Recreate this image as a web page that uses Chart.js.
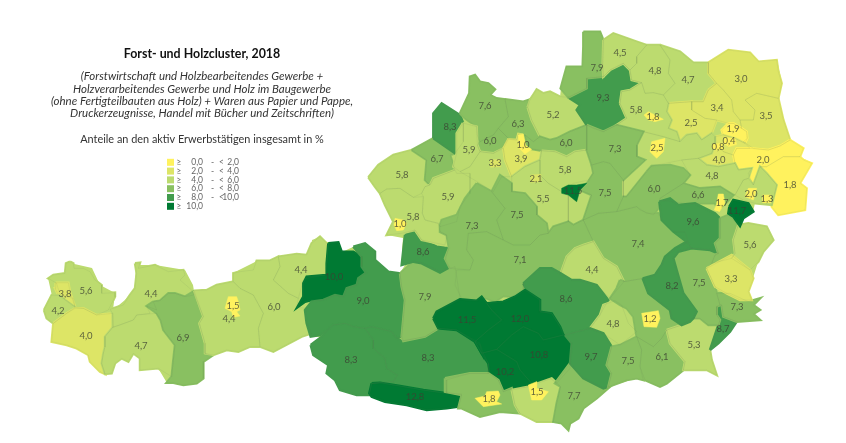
<!DOCTYPE html>
<html>
<head>
<meta charset="utf-8">
<title>Forst- und Holzcluster, 2018</title>
<script src="https://cdn.jsdelivr.net/npm/chart.js@4"></script>
<style>
  html, body { margin: 0; background: #fff; }
  canvas { display: block; }
</style>
</head>
<body>
<canvas id="map" width="846" height="443"></canvas>
<script>
// class colours and legend text
const classColors = ['#fff25e', '#dde566', '#bcdb6f', '#89c061', '#429c4d', '#007a33'];
const legendLabels = [
  ['0,0', '<', '2,0'], ['2,0', '<', '4,0'], ['4,0', '<', '6,0'],
  ['6,0', '<', '8,0'], ['8,0', '<', '10,0'], ['10,0', '', '']
];
const titleText = 'Forst- und Holzcluster, 2018';
const subtitleLines = [
  '(Forstwirtschaft und Holzbearbeitendes Gewerbe +',
  'Holzverarbeitendes Gewerbe und Holz im Baugewerbe',
  '(ohne Fertigteilbauten aus Holz) + Waren aus Papier und Pappe,',
  'Druckerzeugnisse, Handel mit Bücher und Zeitschriften)'
];
const unitText = 'Anteile an den aktiv Erwerbstätigen insgesamt in %';

// outlines were traced in crops of the picture, so each one is given with its crop origin
const crop = (ox, oy) => flat => {
  const pts = [];
  for (let i = 0; i < flat.length; i += 2) pts.push({ x: ox + flat[i] / 3, y: oy + flat[i + 1] / 3 });
  pts.push(pts[0]);
  return pts;
};
const west = crop(40, 230), nw = crop(290, 90), north = crop(460, 20), ne = crop(640, 40);
const mid = crop(440, 170), se = crop(620, 190), sw = crop(290, 230), south = crop(440, 280);

// whole country, goes under the districts so no seam shows white
const countryShape = crop(0, 0)([
  45,310,52,296,48,278,66,275,70,263,92,268,100,285,115,293,113,310,125,300,135,288,136,265,155,265,185,270,193,285,194,291,
  207,290,233,282,235,272,255,262,270,260,290,255,311,255,312,240,320,237,328,243,338,243,342,252,353,247,365,243,375,252,
  375,260,388,272,400,273,405,265,402,250,403,238,387,235,393,222,385,205,380,193,375,187,368,177,378,165,393,155,412,150,
  433,138,433,113,442,103,460,115,469,93,470,77,475,75,480,82,488,83,495,89,490,95,497,98,505,99,523,102,528,100,537,89,
  543,93,550,92,560,97,561,88,567,67,583,67,583,32,600,32,603,40,613,33,637,42,647,45,660,45,680,52,693,63,708,63,728,50,
  750,53,758,62,777,60,782,83,778,98,783,120,790,140,803,148,800,157,812,163,800,183,807,188,805,210,778,215,772,205,755,203,
  753,212,743,218,740,226,748,223,767,227,773,240,763,252,758,262,753,278,748,292,752,300,760,298,753,305,760,310,753,314,
  760,320,737,322,730,332,718,343,710,350,712,360,717,375,707,370,683,370,667,383,660,387,645,380,637,378,608,387,597,398,
  583,408,578,418,570,423,568,430,562,423,553,422,537,422,520,413,500,412,480,417,462,408,458,407,447,408,427,410,407,405,
  385,402,372,397,369,395,357,395,340,390,335,380,327,373,328,365,313,355,311,345,322,337,311,337,312,333,302,337,273,352,
  260,347,250,347,238,352,227,350,213,355,203,362,203,378,197,383,183,385,167,383,158,368,140,370,140,358,133,353,128,362,
  122,358,115,363,112,373,105,374,100,372,90,362,88,355,77,348,67,345,52,342,53,323,47,318
].map(n => n * 3));

// one entry per district, same order in all lists (null = no printed number)
const regionValues = [
  5.6, 3.8, 4.2, 4.0, 4.4, 4.7, 6.9, 4.4, 6.0, 4.4,
  10.0, 9.0, 8.3, 8.3, 12.8, 7.9, 8.6, 5.8, 6.7, 8.3,
  5.8, 5.9, 7.6, 6.3, 6.0, 5.9, null, 3.9, 5.2, 6.0,
  5.8, 5.5, null, 7.5, 7.3, 7.1, 7.5, 9.3, 7.9, 4.5,
  4.8, 4.7, 3.0, 3.5, 3.4, 2.5, 1.9, null, 4.0, 2.0,
  1.8, null, 4.8, 6.6, 5.8, null, 7.3, 6.0, 7.4, 4.4,
  8.6, 4.8, 12.0, 11.5, 10.8, 10.2, null, null, 7.7, 9.7,
  null, 7.5, 6.1, 5.3, 8.7, 7.3, 7.5, 8.2, 9.6, null,
  5.6, 3.3, 11.7,
  1.5, 1.0, 3.3, 1.0, 2.1, 11.5, 1.8, 2.5, 0.4, 0.8,
  2.0, 1.3, 1.7, 1.2, 1.8, 1.5
];
const regionClasses = [
  2, 1, 2, 1, 2, 2, 3, 2, 2, 2,
  5, 4, 4, 4, 5, 3, 4, 2, 3, 4,
  2, 2, 3, 3, 3, 2, 2, 1, 2, 3,
  2, 2, 2, 3, 3, 3, 3, 4, 3, 2,
  2, 2, 1, 1, 1, 1, 0, 1, 1, 0,
  0, 2, 2, 3, 2, 2, 3, 3, 3, 2,
  4, 2, 5, 5, 5, 5, 3, 2, 3, 4,
  3, 3, 3, 2, 4, 3, 3, 4, 4, 3,
  2, 1, 5,
  0, 0, 1, 0, 1, 5, 0, 0, 0, 0,
  0, 0, 0, 0, 0, 0
];
const labelPoints = [
  [86,291],[65,294],[58,311],[86,336],[151,294],[141,346],[183,338],[229,319],[274,307],[301,270],
  [334,277],[363,301],[351,360],[428,358],[415,397],[425,297],[423,252],[402,175],[437,159],[450,127],
  [413,217],[448,197],[485,106],[518,124],[490,141],[469,150],null,[521,159],[553,115],[566,143],
  [565,170],[543,199],null,[517,215],[472,226],[520,260],[605,193],[603,98],[597,68],[620,53],
  [655,71],[688,80],[741,79],[766,116],[717,108],[691,123],[733,129],null,[719,160],[763,160],
  [790,185],null,[712,176],[698,195],[636,110],null,[615,149],[654,189],[638,244],[592,270],
  [566,299],[613,324],[520,319],[467,320],[539,355],[505,372],null,null,[574,396],[591,357],
  null,[628,361],[662,357],[694,345],[723,329],[737,307],[699,283],[672,286],[693,222],null,
  [750,245],[731,279],[737,211],
  [233,306],[400,224],[495,163],[523,145],[536,179],[573,191],[653,117],[657,148],[729,141],[718,147],
  [751,194],[767,199],[722,203],[650,319],[489,399],[537,392]
];
const firstPocket = 83; // entries from here on are the small pockets inside districts
const regionShapes = [
  west([90,95,100,100,102,115,130,115,150,125,165,150,185,165,185,190,225,188,225,200,205,240,170,255,130,235,105,232,100,205,60,195,50,160,25,145,40,135,75,130,78,100]),
  west([47,158,85,158,90,185,105,230,85,215,70,205,55,195,45,175]),
  west([12,240,35,195,60,197,75,210,105,232,80,250,60,265,40,280,20,265]),
  west([40,280,80,250,105,235,130,235,170,255,218,250,220,290,195,320,195,350,190,370,185,400,195,432,180,425,150,395,145,375,110,355,80,345,35,335]),
  west([285,100,300,98,295,115,345,105,385,125,430,120,435,135,420,150,455,180,462,195,435,200,405,190,385,190,360,212,340,215,350,240,320,228,330,250,290,255,280,270,240,285,218,292,218,250,210,238,250,225,270,195,285,175,290,130]),
  west([218,292,280,270,290,255,350,250,362,270,370,300,405,345,400,390,395,440,355,415,300,420,300,385,280,370,265,395,245,385,225,400,215,430,195,432,185,400,190,370,195,350,195,320]),
  west([340,215,360,212,385,190,405,190,435,200,460,185,490,260,478,280,495,340,495,370,515,378,490,395,490,445,470,460,430,465,400,458,380,458,395,440,400,390,405,345,370,300,362,270,350,250,320,228]),
  west([462,182,500,180,530,165,580,155,600,175,640,195,670,250,655,295,660,350,630,350,595,365,560,360,520,375,495,370,495,340,478,280,490,260]),
  west([640,195,600,175,580,155,580,130,600,125,640,120,650,92,690,92,715,80,720,110,700,150,745,190,775,205,770,232,800,235,795,270,815,310,785,320,700,365,660,350,655,295,670,250]),
  west([715,80,770,72,800,75,815,40,840,20,860,40,865,40,860,100,855,135,800,145,790,150,775,205,745,190,700,150,720,110]),

  sw([115,40,145,37,155,65,190,65,215,80,215,110,228,128,205,145,200,165,170,175,160,200,135,195,100,210,65,210,45,215,22,232,40,200,40,160,50,140,108,135,110,100]),
  sw([190,50,225,40,255,65,255,90,295,125,330,130,335,170,345,210,335,320,320,325,305,305,245,290,225,295,190,290,165,280,130,285,90,315,62,320,50,280,45,240,65,215,100,210,135,195,160,200,170,175,200,165,205,145,228,128,215,110,215,80]),
  sw([62,345,95,320,130,285,165,280,190,290,225,295,250,330,250,355,285,385,290,415,322,435,310,455,245,460,238,495,200,495,150,480,135,450,110,430,115,405,70,375]),
  sw([225,295,245,290,305,305,320,325,335,333,405,320,445,295,500,300,570,340,580,370,595,400,595,430,540,430,468,450,470,490,400,480,330,468,270,458,245,460,310,455,322,435,290,415,285,385,250,355,250,330]),
  sw([245,460,270,458,330,468,400,480,470,490,515,492,505,530,470,535,410,540,350,525,285,515,245,500,238,490]),
  sw([330,130,370,95,395,100,450,125,495,110,510,205,435,245,428,270,445,295,405,320,340,333,335,320,345,210,335,170]),
  sw([345,15,375,0,395,30,440,50,475,55,465,95,478,112,450,128,395,100,370,95,335,105,340,60]),
  nw([235,262,265,225,310,195,365,180,410,210,405,270,420,285,405,290,395,310,370,322,330,295,290,297,270,310,255,290]),
  nw([365,180,430,145,495,190,480,195,495,240,430,265,420,285,405,270,410,210]),
  nw([430,145,430,70,455,40,510,75,520,100,520,155,495,190]),

  nw([270,310,290,297,330,295,370,322,400,320,397,370,405,390,445,400,450,425,470,435,465,465,395,450,375,420,335,430,290,435,310,395,285,345]),
  nw([420,285,430,265,495,240,500,250,540,250,540,310,510,350,500,395,450,410,445,400,405,390,397,370,400,320,395,310,405,290]),
  north([0,280,28,220,30,170,45,165,60,185,85,190,105,208,90,225,110,235,135,238,145,290,115,325,100,345,60,365,52,345,50,320,15,295]),
  north([135,238,190,245,205,240,203,262,215,300,240,350,220,365,195,345,175,342,170,360,145,355,115,325,145,290]),
  north([60,365,100,345,115,325,145,355,125,385,100,400,60,395,52,375]),
  north([9,309,50,320,52,375,60,395,30,440,0,455,-20,440,-10,400,-10,340]),
  north([60,395,100,400,130,385,135,420,155,470,125,470,100,515,60,490,0,455,30,440]),
  north([130,385,145,358,170,360,175,342,195,345,205,385,245,392,240,420,195,440,155,470,135,420]),
  north([203,262,210,240,230,208,250,220,270,215,300,230,325,232,360,255,350,270,380,315,330,335,290,355,270,360,240,350,215,300]),
  north([220,365,240,350,270,360,290,355,330,335,380,315,380,390,345,395,320,410,285,395,245,392,205,385,195,345]),

  north([245,392,285,395,320,410,345,395,380,390,395,435,400,460,385,480,340,490,305,515,265,490,240,465,240,420]),
  mid([215,20,255,-10,300,-30,300,15,325,40,365,65,385,75,385,155,340,170,325,190,320,160,290,135,290,110,255,70,215,65,215,40]),
  mid([385,75,410,95,420,60,455,75,430,150,400,165,385,155]),
  mid([155,65,180,15,215,40,215,65,255,70,290,110,290,135,320,160,325,190,300,195,270,225,220,225,190,210,170,150,195,115]),
  mid([110,40,155,65,195,115,170,150,190,210,140,185,85,190,80,240,100,270,90,300,30,295,15,265,27,235,20,195,0,186,0,165,5,150,50,135,75,85]),
  mid([85,190,140,185,190,210,220,225,270,225,300,195,325,190,340,170,385,155,400,165,430,150,460,215,430,225,405,235,380,260,362,310,335,295,300,295,250,340,250,358,215,380,190,378,165,395,125,380,105,390,65,385,45,345,50,300,90,300,100,270,80,240]),
  mid([445,35,460,10,455,-15,490,-25,510,-20,550,30,550,80,530,125,475,130,430,150,455,75,420,60]),
  north([325,232,380,205,380,175,430,170,450,150,490,130,510,150,515,180,545,188,510,210,485,215,480,250,500,295,470,315,430,335,400,325,380,315,350,270,360,255]),
  north([370,35,420,35,430,60,428,135,430,170,380,175,380,205,325,232,302,205,320,140,368,140,370,80]),
  north([430,60,460,40,530,65,560,75,530,110,530,130,510,150,490,130,450,150,430,170,428,135]),

  ne([20,15,60,15,90,60,85,100,105,130,70,165,40,158,15,160,5,128,-25,120,-30,90,-10,70,-10,50]),
  ne([60,15,120,35,160,68,205,68,205,100,230,130,205,150,190,185,155,185,85,190,70,165,105,130,85,100,90,60]),
  ne([205,68,265,30,330,38,355,65,410,60,415,95,425,130,415,175,350,160,315,180,345,210,340,240,300,240,280,215,275,180,250,150,230,130,205,100]),
  ne([350,160,415,175,430,240,450,300,420,318,385,330,340,325,310,305,322,295,320,275,305,265,300,240,340,240,345,210,315,180]),
  ne([205,150,230,130,250,150,275,180,280,215,300,240,305,265,280,250,265,250,230,240,195,235,155,210,155,185,190,185]),
  ne([85,190,155,185,155,210,195,235,230,240,215,280,185,300,170,280,140,285,120,305,110,275,85,265,95,240,80,215]),
  ne([265,250,280,250,305,265,320,275,322,295,315,310,285,295,250,285,245,270]),
  ne([225,290,250,285,285,295,315,310,330,325,290,325,280,345,250,335,225,310]),
  ne([175,355,215,340,225,310,250,335,280,345,285,370,260,375,235,380,200,375]),
  ne([280,345,290,325,330,325,385,330,420,318,450,300,490,325,480,350,430,350,380,380,360,380,340,435,325,400,335,385,295,390,285,370]),

  ne([380,380,430,350,480,350,490,360,515,370,480,430,500,445,495,510,415,525,395,500,410,435,380,400,360,380]),
  ne([285,465,310,420,325,415,340,435,360,380,380,400,410,435,395,495,345,490,310,480]),
  ne([130,430,150,405,125,360,175,355,200,375,235,380,260,375,285,370,295,390,335,385,325,415,310,420,285,465,280,465,240,440,180,445]),
  ne([130,430,180,445,240,440,280,465,262,485,235,510,225,490,135,490,60,480,60,475]),
  ne([-60,190,-55,155,-30,150,5,128,15,160,40,158,70,165,85,190,80,215,95,240,85,265,110,275,120,305,70,290,10,275,-70,255,-40,235]),
  ne([10,275,70,290,120,305,140,285,170,280,185,300,215,280,225,290,225,310,215,340,175,355,125,360,35,378,20,395,-40,470,-50,470,-50,420,15,360,-10,350,-10,315]),
  north([380,315,430,335,470,315,550,335,530,375,530,410,555,420,490,480,450,430,430,425,395,435,380,390]),
  ne([20,395,35,378,90,375,130,385,150,405,130,430,60,475,55,505,40,525,0,510,-10,500,-70,515,-50,470,-40,470]),
  se([-110,90,-65,70,-10,65,50,50,80,70,115,70,125,90,160,125,195,125,205,155,165,175,135,200,125,225,105,255,70,265,12,275,-10,230,-50,205,-80,155]),
  mid([362,310,380,260,405,235,430,225,460,215,490,265,530,290,552,335,510,385,470,345,420,330,395,330]),

  mid([250,340,300,295,335,295,362,310,395,330,420,330,470,345,505,390,480,435,450,475,375,495,360,470,335,430,300,425,300,390,260,360]),
  south([450,145,480,105,490,75,525,62,545,75,565,130,590,155,540,195,490,160]),
  south([140,70,190,65,225,50,255,30,300,60,300,95,335,100,360,140,370,165,310,180,295,160,250,140,215,165,170,208,125,220,105,185,145,150,185,120,155,90]),
  south([-20,115,-10,95,60,58,110,62,125,50,140,70,155,90,185,120,145,150,105,185,125,220,120,195,50,150,-5,145]),
  south([170,208,215,165,250,140,295,160,310,180,370,165,395,190,390,265,350,310,330,295,275,310,240,270,230,245]),
  south([125,220,170,208,230,245,240,270,275,310,265,320,215,325,190,335,175,300,150,280,145,250]),
  south([15,295,90,280,145,280,175,300,190,335,215,325,225,375,240,400,180,395,120,410,65,385,55,385,65,345,15,335]),
  south([215,330,265,320,335,295,362,320,350,370,340,425,290,425,240,400,225,375]),
  south([362,320,345,310,390,250,430,295,490,325,510,320,470,355,430,385,415,415,390,430,385,450,365,430,340,425,350,370]),
  south([375,165,450,145,490,160,515,200,500,255,515,280,505,320,490,325,430,295,390,250,395,190]),

  se([0,270,12,275,70,265,85,310,150,360,155,385,185,405,140,420,125,445,100,470,50,440,40,380,20,355,0,345,-30,325,-10,295]),
  se([-25,470,0,465,50,440,65,480,60,530,70,570,50,565,20,570,-35,590,-25,550,-40,525]),
  se([50,440,100,470,125,445,140,420,150,460,195,515,190,540,140,580,120,590,75,570,60,530,65,480]),
  se([140,420,185,405,220,385,240,385,265,405,295,405,270,480,275,510,290,555,260,540,190,540,195,515,150,460]),
  se([270,480,295,405,300,390,290,375,290,350,305,345,310,380,350,395,330,425,295,460]),
  se([290,310,330,310,385,335,420,325,400,345,420,360,400,372,420,390,350,395,310,380,305,345,300,345]),
  se([160,205,175,185,215,175,270,180,295,190,285,195,275,220,260,235,285,290,300,345,290,350,290,375,300,390,295,405,265,405,240,385,220,385,230,360,190,310,170,240]),
  se([68,265,105,255,125,225,135,200,165,175,200,155,215,175,175,185,160,205,170,240,190,310,230,365,220,385,210,395,185,405,155,385,150,360,85,310]),
  se([118,35,150,25,175,45,225,40,285,70,300,85,300,145,285,160,295,190,270,180,215,175,200,155,160,125,125,90]),
  se([300,85,325,75,355,105,340,150,345,190,335,205,275,220,285,195,295,190,285,160,300,145]),

  se([355,105,385,100,440,110,460,150,430,185,415,215,390,240,335,205,345,190,340,150]),
  se([260,235,335,195,390,240,400,265,385,305,395,330,360,330,320,310,285,290]),
  se([328,50,340,30,385,40,400,65,370,85,360,108,340,80,325,70]),

  // small pockets lying inside the districts above
  west([565,200,590,200,595,215,600,240,590,245,600,258,580,262,575,245,555,235]),
  nw([315,385,340,390,350,400,340,420,320,422,312,405]),
  north([90,420,120,418,122,440,92,442]),
  north([175,345,190,342,195,375,215,388,195,402,178,385]),
  mid([272,15,302,13,302,35,272,37]),
  mid([365,55,385,45,410,45,440,40,420,60,410,95,385,75,365,70]),
  ne([12,225,25,215,45,225,70,238,45,245,25,240]),
  ne([35,305,75,295,70,335,50,355,30,335]),
  ne([255,293,285,295,290,313,267,320,250,310]),
  ne([217,313,245,310,250,325,230,330,217,325]),
  ne([325,445,350,445,340,480,315,470]),
  ne([368,465,392,465,392,488,368,488]),
  se([295,12,310,12,315,40,298,65,283,60,290,40]),
  se([65,370,115,362,120,385,110,412,72,410]),
  south([105,355,135,348,140,335,175,333,180,345,170,365,185,372,130,380]),
  south([265,315,290,305,290,325,325,335,305,360,275,360])
];

const fmt = v => v.toFixed(1).replace('.', ',');

// numbers, headings and legend go on top of the filled districts
const textPlugin = {
  id: 'mapText',
  afterDatasetsDraw(chart) {
    const { ctx, scales: { x, y } } = chart;
    ctx.save();
    ctx.textBaseline = 'middle';
    ctx.textAlign = 'center';

    ctx.fillStyle = 'rgba(60,65,50,0.8)';
    ctx.font = '9.5px Lato';
    regionValues.forEach((v, i) => {
      if (v === null) return;
      ctx.fillText(fmt(v), x.getPixelForValue(labelPoints[i][0]), y.getPixelForValue(labelPoints[i][1]));
    });

    ctx.fillStyle = '#111';
    ctx.font = 'bold 12.4px Lato';
    ctx.fillText(titleText, x.getPixelForValue(202), y.getPixelForValue(54));

    ctx.fillStyle = '#333';
    ctx.font = 'italic 11.5px Lato';
    subtitleLines.forEach((line, i) => {
      ctx.fillText(line, x.getPixelForValue(202), y.getPixelForValue(76.5 + i * 12.3));
    });
    ctx.font = '10.9px Lato';
    ctx.fillText(unitText, x.getPixelForValue(202), y.getPixelForValue(139));

    // legend rows
    ctx.font = '8.5px Lato';
    legendLabels.forEach((row, i) => {
      const rowY = 162.3 + i * 8.8;
      ctx.fillStyle = classColors[i];
      ctx.fillRect(x.getPixelForValue(167), y.getPixelForValue(rowY - 3.5), 7, 7);
      ctx.fillStyle = '#666';
      ctx.textAlign = 'left';
      ctx.fillText('≥', x.getPixelForValue(176.5), y.getPixelForValue(rowY));
      ctx.textAlign = 'right';
      ctx.fillText(row[0], x.getPixelForValue(203), y.getPixelForValue(rowY));
      if (row[1]) {
        ctx.textAlign = 'left';
        ctx.fillText('-', x.getPixelForValue(211), y.getPixelForValue(rowY));
        ctx.fillText(row[1], x.getPixelForValue(219), y.getPixelForValue(rowY));
        ctx.textAlign = 'right';
        ctx.fillText(row[2], x.getPixelForValue(239), y.getPixelForValue(rowY));
      }
    });
    ctx.restore();
  }
};

// fill pass: own colour stroke closes the small seams between neighbours
const fillSet = (shape, color, width) => ({
  data: shape, showLine: true, fill: 'shape', backgroundColor: color,
  borderColor: color, borderWidth: width, pointRadius: 0, tension: 0
});
const districtFills = regionShapes.slice(0, firstPocket).map((s, i) => fillSet(s, classColors[regionClasses[i]], 2.5));
// faint district lines drawn over the fills
const districtLines = regionShapes.slice(0, firstPocket).map(s => ({
  data: s, showLine: true, fill: false, borderColor: 'rgba(95,120,80,0.2)',
  borderWidth: 0.5, pointRadius: 0, tension: 0
}));
const pocketFills = regionShapes.slice(firstPocket).map((s, i) => fillSet(s, classColors[regionClasses[firstPocket + i]], 0.5));
const allSets = [fillSet(countryShape, classColors[2], 0), ...districtFills, ...districtLines, ...pocketFills];
allSets.forEach((d, i) => { d.order = allSets.length - i; }); // later entries on top

new Chart(document.getElementById('map'), {
  type: 'scatter',
  data: { datasets: allSets },
  options: {
    responsive: false,
    animation: false,
    layout: { padding: 0 },
    scales: {
      x: { display: false, min: 0, max: 846 },
      y: { display: false, min: 0, max: 443, reverse: true }
    },
    plugins: {
      legend: { display: false },
      tooltip: { enabled: false },
      filler: { drawTime: 'beforeDatasetDraw' }
    }
  },
  plugins: [textPlugin]
});
</script>
</body>
</html>
